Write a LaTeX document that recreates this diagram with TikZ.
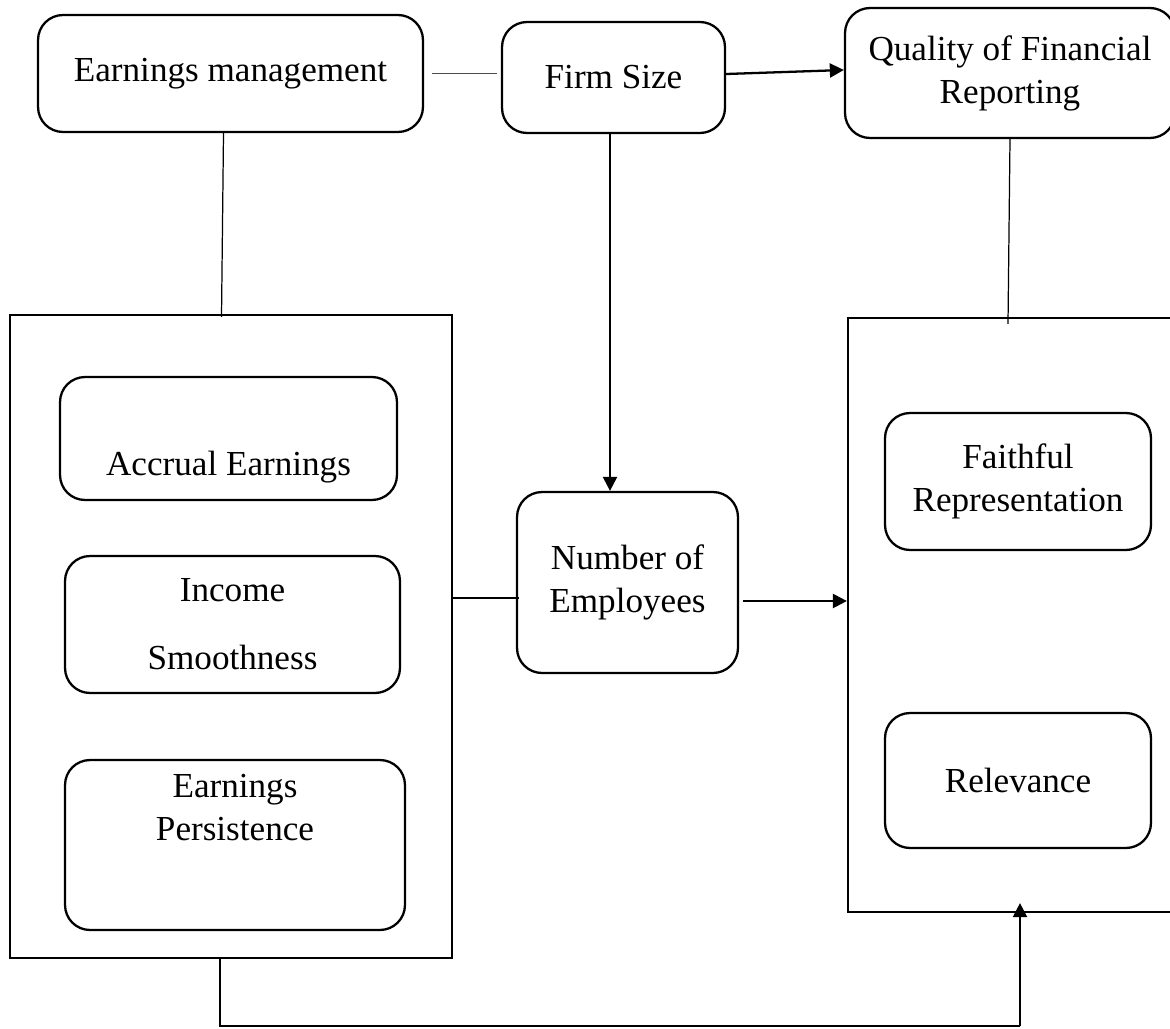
\documentclass[tikz,border=0pt]{standalone}
\usepackage{fontspec}
\setmainfont{Liberation Serif}
\usetikzlibrary{arrows.meta,calc}

\begin{document}
\begin{tikzpicture}[x=0.02cm,y=-0.02cm]
        \tikzstyle{every node}=[font=\fontsize{20}{24.5}\selectfont, align=center, inner sep=2pt]
        \tikzstyle{rbox}=[draw, rounded corners=0.5cm, line width=1.3pt]
        \tikzstyle{frame}=[draw, line width=1.3pt]
        \tikzstyle{link}=[line width=0.7pt]
        \tikzstyle{arr}=[line width=1.3pt, -{Triangle[length=8pt,width=8pt]}]
        \useasboundingbox (0,0) rectangle (1170,1028);
        % top row
        \node[rbox, minimum width=7.7cm, minimum height=2.34cm] (em) at (230.5,73.5) {Earnings management};
        \node[rbox, minimum width=4.46cm, minimum height=2.22cm] (fs) at (613.5,77.5) {Firm Size};
        \node[rbox, minimum width=6.6cm, minimum height=2.6cm] (qfr) at (1010,73) {Quality of Financial\\Reporting};
        % left frame
        \node[frame, minimum width=8.84cm, minimum height=12.86cm] (leftbox) at (231,636.5) {};
        \node[rbox, minimum width=6.74cm, minimum height=2.46cm] (ae) at (228.5,438.5) {};
        \node (aetext) at (228.5,467) {Accrual Earnings};
        \node[rbox, minimum width=6.7cm, minimum height=2.74cm] (is) at (232.5,624.5) {Income\\[0.5cm]Smoothness};
        \node[rbox, minimum width=6.8cm, minimum height=3.4cm] (ep) at (235,845) {};
        \node (eptext) at (235,807.5) {Earnings\\Persistence};
        % middle
        \node[rbox, minimum width=4.42cm, minimum height=3.62cm] (noe) at (627.5,582.5) {Number of\\Employees};
        % right frame
        \node[frame, minimum width=6.6cm, minimum height=11.88cm] (rightbox) at (1013,615) {};
        \node[rbox, minimum width=5.32cm, minimum height=2.74cm] (fr) at (1018,481.5) {Faithful\\Representation};
        \node[rbox, minimum width=5.32cm, minimum height=2.7cm] (rel) at (1018,780.5) {Relevance};
        % connectors
        \draw[link, black!70, shorten <=4.5pt, shorten >=2.3pt] (em.east) -- (em.east -| fs.west);
        \draw[arr] ([yshift=0.07cm]fs.east) -- ([yshift=0.06cm]qfr.west);
        \draw[link] ([xshift=-0.14cm]em.south) -- ([xshift=-0.18cm,yshift=-0.06cm]em.south |- leftbox.north);
        \draw[arr] ([xshift=-0.07cm]fs.south) -- ([xshift=-0.07cm]fs.south |- noe.north);
        \draw[link] (qfr.south) -- ([xshift=-0.04cm,yshift=-0.14cm]qfr.south |- rightbox.north);
        \draw[link] ([yshift=-0.31cm]noe.west -| leftbox.east) -- ([xshift=0.06cm,yshift=-0.31cm]noe.west);
        \draw[arr] ([xshift=0.08cm,yshift=-0.37cm]noe.east) -- ([yshift=-0.37cm]noe.east -| rightbox.west);
        \coordinate (turn) at (1020,1026);
        \draw[link] ([xshift=-0.22cm]leftbox.south) |- (turn);
        \draw[arr] (turn) -- ([yshift=0.2cm]turn |- rightbox.south);
\end{tikzpicture}
\end{document}
